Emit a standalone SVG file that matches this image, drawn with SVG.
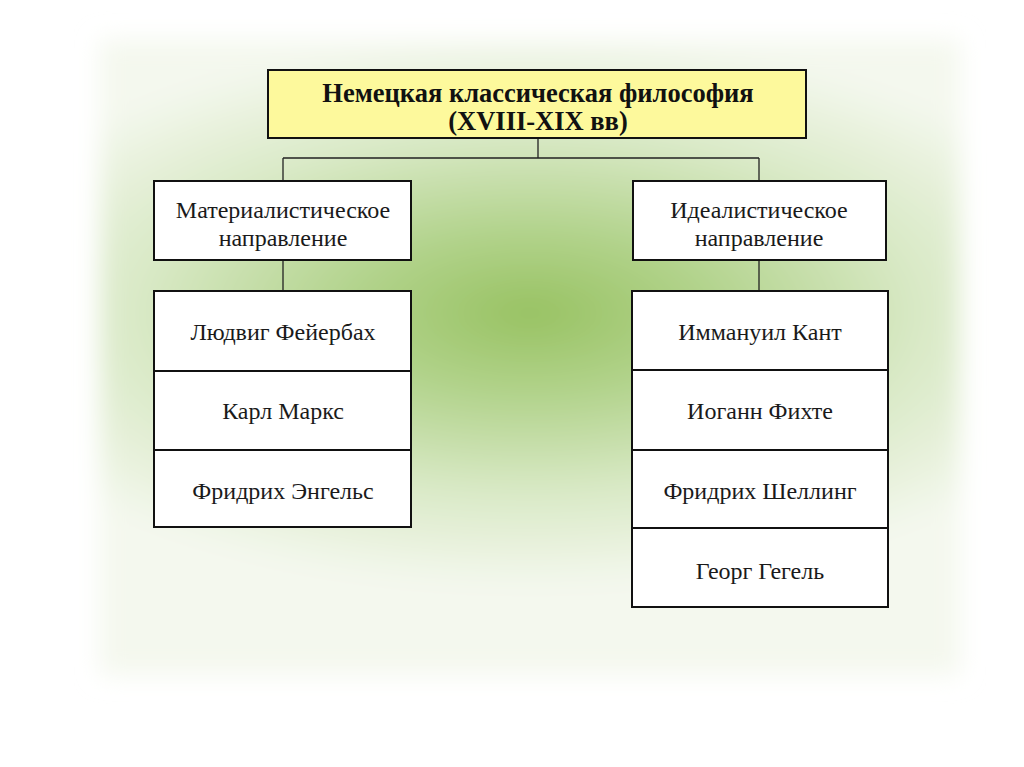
<svg xmlns="http://www.w3.org/2000/svg" width="1024" height="767" viewBox="0 0 1024 767">
<defs>
<radialGradient id="bg" cx="0.5" cy="0.43" r="0.7" gradientTransform="translate(0.5 0.43) scale(1 0.62) translate(-0.5 -0.43)">
<stop offset="0" stop-color="#98c262"/>
<stop offset="0.3" stop-color="#b2d38c"/>
<stop offset="0.65" stop-color="#d9e9c6"/>
<stop offset="1" stop-color="#f4f8ee"/>
</radialGradient>
<filter id="soft" x="-10%" y="-10%" width="120%" height="120%"><feGaussianBlur stdDeviation="12"/></filter>
<style>
.box{fill:#ffffff;stroke:#111;stroke-width:2}
.title{fill:#fdf99c;stroke:#111;stroke-width:2}
.t{font-family:"Liberation Serif","DejaVu Serif",serif;font-size:24px;fill:#1a1a1a;text-anchor:middle}
.tb{font-family:"Liberation Serif","DejaVu Serif",serif;font-size:26.5px;font-weight:bold;fill:#111;text-anchor:middle}
.c{stroke:#222;stroke-width:1.3;fill:none}
</style>
</defs>
<rect width="1024" height="767" fill="#ffffff"/>
<rect x="100" y="40" width="860" height="635" fill="url(#bg)" filter="url(#soft)"/>
<g id="connectors">
<path class="c" d="M538 138 V158 M283 158 H759 M283 158 V181 M759 158 V181 M283 260 V291 M759 260 V291"/>
</g>
<g id="title">
<rect class="title" x="268" y="70" width="538" height="68"/>
<text class="tb" x="538" y="102">Немецкая классическая философия</text>
<text class="tb" x="538" y="130">(XVIII-XIX вв)</text>
</g>
<g id="materialist">
<rect class="box" x="154" y="181" width="257" height="79"/>
<text class="t" x="283" y="218">Материалистическое</text>
<text class="t" x="283" y="246">направление</text>
</g>
<g id="idealist">
<rect class="box" x="633" y="181" width="253" height="79"/>
<text class="t" x="759" y="218">Идеалистическое</text>
<text class="t" x="759" y="246">направление</text>
</g>
<g id="materialists-list">
<rect class="box" x="154" y="291" width="257" height="80"/>
<text class="t" x="283" y="340">Людвиг Фейербах</text>
<rect class="box" x="154" y="371" width="257" height="79"/>
<text class="t" x="283" y="419">Карл Маркс</text>
<rect class="box" x="154" y="450" width="257" height="77"/>
<text class="t" x="283" y="499">Фридрих Энгельс</text>
</g>
<g id="idealists-list">
<rect class="box" x="632" y="291" width="256" height="79"/>
<text class="t" x="760" y="340">Иммануил Кант</text>
<rect class="box" x="632" y="370" width="256" height="80"/>
<text class="t" x="760" y="419">Иоганн Фихте</text>
<rect class="box" x="632" y="450" width="256" height="78"/>
<text class="t" x="760" y="499">Фридрих Шеллинг</text>
<rect class="box" x="632" y="528" width="256" height="79"/>
<text class="t" x="760" y="579">Георг Гегель</text>
</g>
</svg>
